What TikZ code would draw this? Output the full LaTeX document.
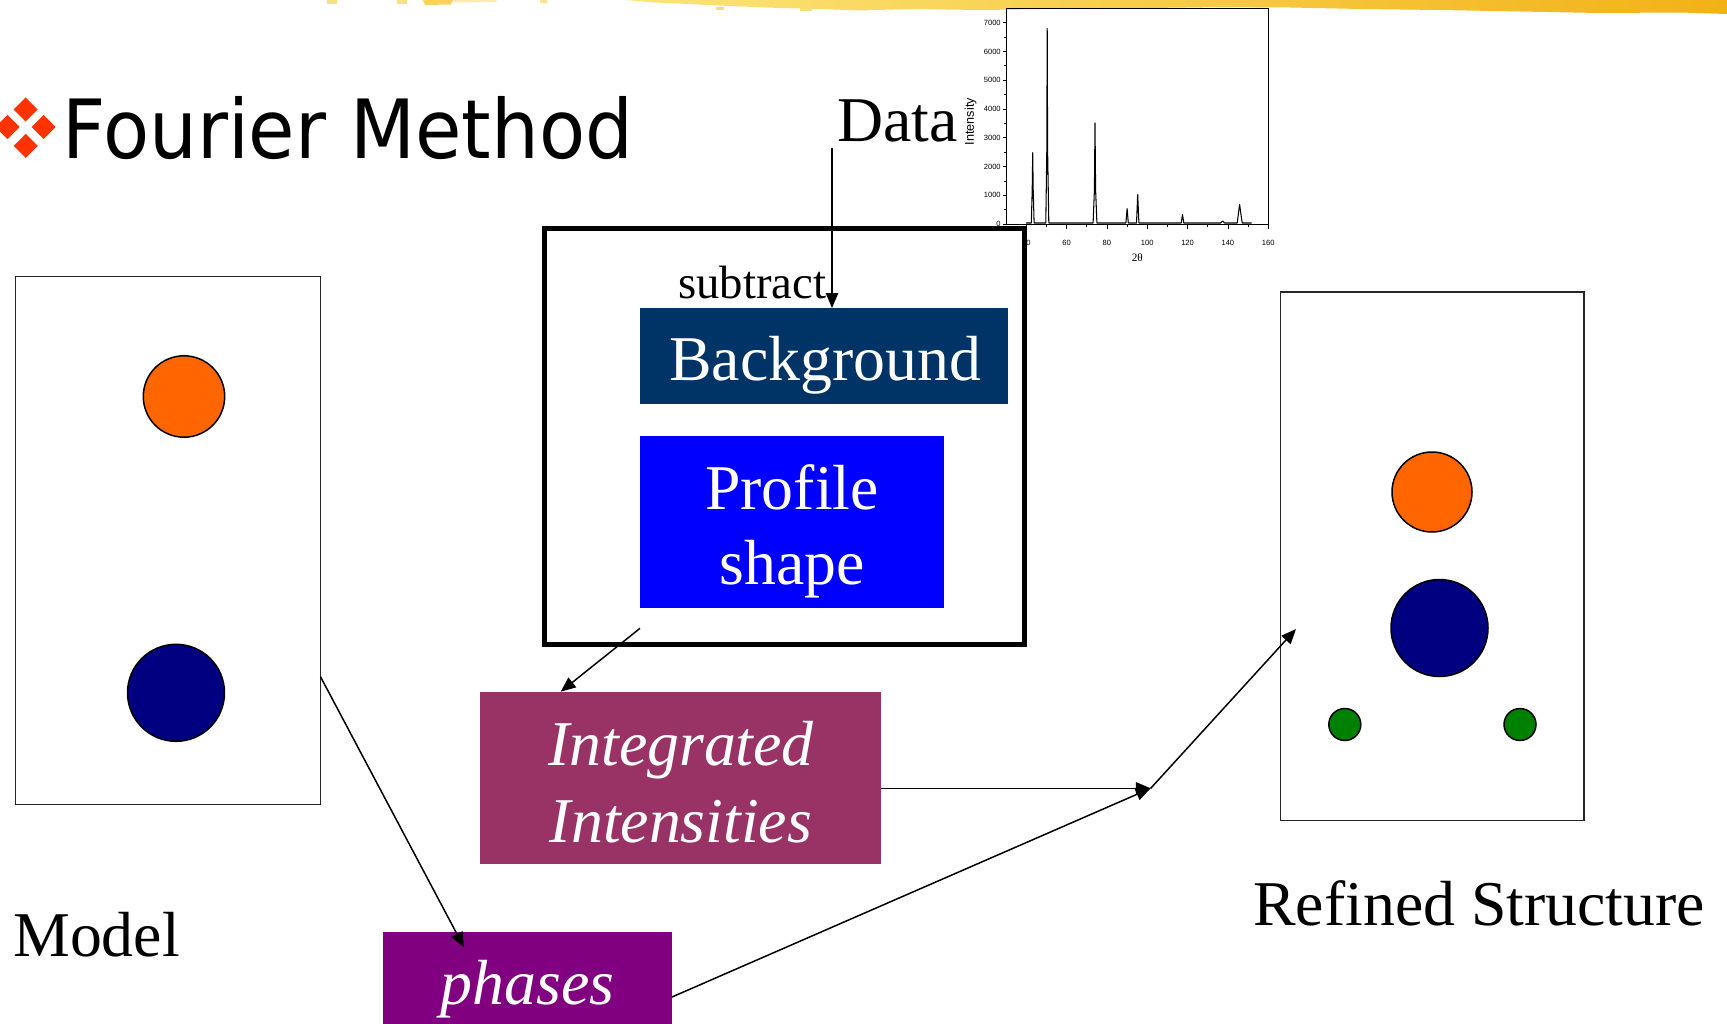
\documentclass[tikz,border=0pt]{standalone}
\usepackage{fontspec}
\usepackage{graphicx}
\setmainfont{Liberation Serif}
\newfontfamily\titlesans{DejaVu Sans}
\newfontfamily\plotsans{Liberation Sans}
\usetikzlibrary{arrows.meta}

\newdimen\pxunit \pxunit=0.02cm

\definecolor{bgnavy}{RGB}{0,51,102}
\definecolor{profblue}{RGB}{0,0,255}
\definecolor{intplum}{RGB}{153,51,102}
\definecolor{phpurple}{RGB}{128,0,128}
\definecolor{atomorange}{RGB}{255,102,0}
\definecolor{atomnavy}{RGB}{0,0,128}
\definecolor{atomgreen}{RGB}{0,128,0}
\definecolor{bulletred}{RGB}{255,51,0}
\definecolor{bandlight}{RGB}{252,228,120}
\definecolor{bandgold}{RGB}{248,196,32}
\definecolor{banddeep}{RGB}{242,178,22}

\newcommand\bigserif{\fontsize{36.3pt}{40pt}\selectfont}

\tikzset{
  panel/.style={draw=black!85, line width=0.85pt, inner sep=0pt, outer sep=0pt},
  colbox/.style={inner sep=0pt, outer sep=0pt},
  atom/.style={circle, draw=black, line width=0.85pt, inner sep=0pt, outer sep=0pt},
  arr/.style={-{Triangle[length=8.5pt,width=7pt]}, line width=0.85pt},
  whitetext/.style={text=white, inner sep=0pt, font=\bigserif},
  blacktext/.style={text=black, inner sep=0pt, font=\bigserif},
  ticklab/.style={inner sep=0pt, font=\plotsans\fontsize{4.3pt}{5pt}\selectfont},
}

\begin{document}
\begin{tikzpicture}[x=0.02cm, y=-0.02cm]
\useasboundingbox (0,0) rectangle (1727,1024);
\clip (0,0) rectangle (1727,1024);
\fill[white] (0,0) rectangle (1727,1024);

% brushed yellow band along the top edge
\shade[left color=bandlight, middle color=bandgold, right color=banddeep]
  (625,0) -- (1727,0) -- (1727,14) -- (1680,12.5) -- (1600,13) -- (1520,11.5)
  -- (1440,10) -- (1360,9) -- (1290,7.5) -- (1220,7) -- (1150,8) -- (1060,9)
  -- (980,10) -- (910,9) -- (860,10.5) -- (820,9) -- (780,8) -- (730,6)
  -- (690,4) -- (655,2.5) -- cycle;
\fill[bandgold!55] (327,0) rectangle (337,4);
\fill[bandgold!55] (397,0) rectangle (407,4);
\fill[bandgold!75] (423,0) -- (453,0) -- (451,4.5) -- (425,5) -- cycle;
\fill[bandgold!35] (453,0) -- (497,0) -- (495,2) -- (455,2.5) -- cycle;
\fill[bandgold!50] (540,0) rectangle (547,3);
\fill[bandgold!60] (716,7) rectangle (724,10);
\fill[bandgold!60] (800,8) rectangle (812,11);

% title with bullet
\foreach \cx/\cy in {25.7/109.5, 7.5/127, 43.7/127, 25.7/145.8}
  \fill[bulletred] (\cx,\cy-12) -- (\cx+12,\cy) -- (\cx,\cy+12) -- (\cx-12,\cy) -- cycle;
\node[anchor=base west, inner sep=0pt] (title) at (62,158)
  {\scalebox{0.923}[1]{\titlesans\fontsize{46.5pt}{50pt}\selectfont Fourier Method}};

% diffraction pattern
\draw[line width=0.5pt] (1006.1,8) rectangle (1268.2,224);
\foreach \k/\lab in {0/0,1/1000,2/2000,3/3000,4/4000,5/5000,6/6000,7/7000} {
  \draw[line width=0.4pt] (1006.1,{224-28.76*\k}) -- ++(-3.5,0);
  \node[ticklab, anchor=east] (yl\k) at (1001,{224-28.76*\k}) {\lab};
}
\foreach \k in {0.5,1.5,...,6.5}
  \draw[line width=0.4pt] (1006.1,{224-28.76*\k}) -- ++(-2,0);
\foreach \t in {40,60,...,160} {
  \draw[line width=0.4pt] ({1006.1+(\t-30)*2.016},224) -- ++(0,5);
  \node[ticklab, anchor=base] (xl\t) at ({1006.1+(\t-30)*2.016},245) {\t};
}
\foreach \t in {50,70,...,150}
  \draw[line width=0.4pt] ({1006.1+(\t-30)*2.016},224) -- ++(0,3);
\node[rotate=90, inner sep=0pt, font=\plotsans\fontsize{7.2pt}{8pt}\selectfont] (ylab) at (970.7,121.7) {Intensity};
\node[anchor=base, inner sep=0pt, font=\fontsize{6.4pt}{7pt}\selectfont] (xlab) at (1137.3,261.7) {2θ};
\draw[line width=0.6pt, line join=round]
  (1026,223) -- (1031.3,223) -- (1032.2,190) -- (1032.7,152.7) -- (1033.2,190) -- (1034.1,223)
  -- (1045.8,223) -- (1046.8,150) -- (1047.2,28.4) -- (1047.6,150) -- (1048.8,223)
  -- (1093.1,223) -- (1094.4,190) -- (1095,122.8) -- (1095.6,190) -- (1096.9,223)
  -- (1125.9,223) -- (1127.1,208.5) -- (1128.3,223)
  -- (1136.5,223) -- (1137.7,194.7) -- (1138.9,223)
  -- (1181.2,223) -- (1182.5,214.5) -- (1183.8,223)
  -- (1220.6,223) -- (1222.6,221) -- (1224.6,223)
  -- (1237.2,223) -- (1238.6,212) -- (1239.6,204.4) -- (1240.6,212) -- (1242.2,223)
  -- (1251.7,223);

% refinement frame with background and profile blocks
\node[draw=black, line width=2.6pt, inner sep=0pt, outer sep=0pt,
      minimum width=479.8*\pxunit, minimum height=415.7*\pxunit] (frame) at (784.6,436.4) {};
\node[colbox, fill=bgnavy, minimum width=368*\pxunit, minimum height=96*\pxunit] (bg) at (824,356) {};
\node[whitetext, anchor=base] (bgtext) at (825,380) {Background};
\node[colbox, fill=profblue, minimum width=304*\pxunit, minimum height=172*\pxunit] (prof) at (792,522) {};
\node[whitetext, anchor=base] (proftext1) at (792,509) {Profile};
\node[whitetext, anchor=base] (proftext2) at (792,584) {shape};
\node[blacktext, anchor=base west, font=\fontsize{26.6pt}{30pt}\selectfont] (subtr) at (678,298) {subtract};
\node[blacktext, anchor=base west] (data) at (837,141) {Data};

% intensities and phases
\node[colbox, fill=intplum, minimum width=400.7*\pxunit, minimum height=172*\pxunit] (integ) at (680.4,777.8) {};
\node[whitetext, anchor=base, font=\bigserif\itshape] (integ1) at (681,765.5) {Integrated};
\node[whitetext, anchor=base, font=\bigserif\itshape] (integ2) at (681,842.6) {Intensities};
\node[colbox, fill=phpurple, minimum width=289*\pxunit, minimum height=110*\pxunit] (phases) at (527.5,987) {};
\node[whitetext, anchor=base, font=\bigserif\itshape] (phtext) at (527.5,1004.5) {phases};

% model structure
\node[panel, minimum width=305*\pxunit, minimum height=528*\pxunit] (model) at (168,540.3) {};
\node[atom, fill=atomorange, minimum size=81.4*\pxunit] (m1) at (184,396.5) {};
\node[atom, fill=atomnavy, minimum size=97*\pxunit] (m2) at (176,692.8) {};
\node[blacktext, anchor=base west] (modeltext) at (13,956) {Model};

% refined structure
\node[panel, minimum width=303.5*\pxunit, minimum height=528.8*\pxunit] (refined) at (1432,556.3) {};
\node[atom, fill=atomorange, minimum size=80*\pxunit] (r1) at (1432,492) {};
\node[atom, fill=atomnavy, minimum size=97*\pxunit] (r2) at (1439.5,628) {};
\node[atom, fill=atomgreen, minimum size=32*\pxunit] (r3) at (1344.8,724.5) {};
\node[atom, fill=atomgreen, minimum size=32*\pxunit] (r4) at (1520,724.5) {};
\node[blacktext, anchor=base west] (reftext) at (1253,925) {Refined Structure};

% connectors
\coordinate (datatail) at (832,148);
\coordinate (profout) at (640,628.3);
\coordinate (integin) at (560.7,691.7);
\coordinate (modelout) at (320.5,676.7);
\coordinate (phasein) at (464,947.3);
\coordinate (phaseout) at (672,997);
\coordinate (jn) at (1150.7,788.3);
\coordinate (refin) at (1296,629);

\draw[arr] (datatail) -- (datatail |- bg.north);
\draw[arr] (profout) -- (integin);
\draw[arr] (modelout) -- (phasein);
\draw[arr] (integ.east |- jn) -- (jn);
\draw[arr] (phaseout) -- (jn);
\draw[arr] (jn) -- (refin);
\end{tikzpicture}
\end{document}
